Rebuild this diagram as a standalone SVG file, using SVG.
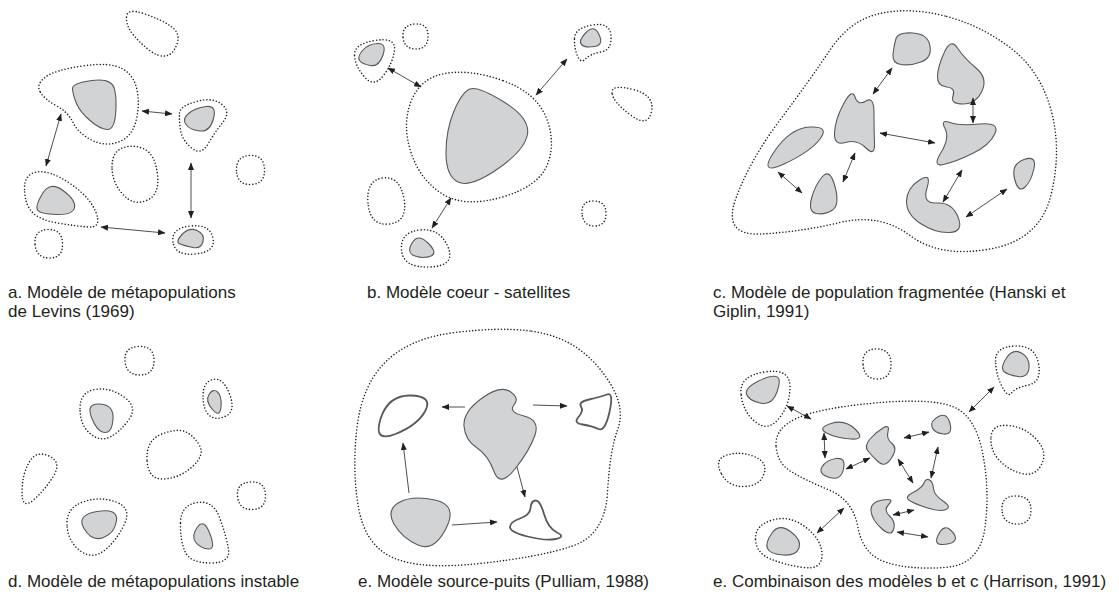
<svg xmlns="http://www.w3.org/2000/svg" width="1119" height="601" viewBox="0 0 1119 601">
<defs>
<style>
.dot{fill:none;stroke:#231f20;stroke-width:1.6;stroke-dasharray:0 3.2;stroke-linecap:round}
.pat{fill:#d1d3d4;stroke:#58595b;stroke-width:1.1}
.sink{fill:#fff;stroke:#58595b;stroke-width:1.8}
.arr{fill:none;stroke:#231f20;stroke-width:0.8;marker-end:url(#ah)}
.dbl{marker-start:url(#ah)}
.lbl{font-family:"Liberation Sans",Arial,sans-serif;font-size:17px;fill:#231f20}
</style>
<marker id="ah" markerUnits="userSpaceOnUse" markerWidth="8" markerHeight="6" refX="7" refY="3" orient="auto-start-reverse" viewBox="0 0 8 6"><path d="M0,0 L7.5,3 L0,6 z" fill="#231f20"/></marker>
</defs>
<rect width="1119" height="601" fill="#fff"/>

<g id="panel-a">
<path class="dot" d="M126.5,17 Q127,8 143.5,13.5 Q160,19 170.5,26 Q181,33 177,44 Q173,55 165.5,56 Q158,57 149,50 Q140,43 133,34.5 Q126,26 126.5,17 Z"/>
<path class="dot" d="M40,91.5 Q36,84 45.5,77 Q55,70 82.5,66 Q110,62 122,68.5 Q134,75 137,90 Q140,105 136,121 Q132,137 118.5,142 Q105,147 91.5,140 Q78,133 73,122.5 Q68,112 56,105.5 Q44,99 40,91.5 Z"/>
<path class="pat" d="M72.5,89 Q72,83 92,80.5 Q112,78 114.5,89 Q117,100 115.5,115 Q114,130 107,129.5 Q100,129 90,120.5 Q80,112 76.5,103.5 Q73,95 72.5,89 Z"/>
<path class="dot" d="M179.5,113 Q180,106 196.5,101.5 Q213,97 222,104.5 Q231,112 223,122 Q215,132 208,144 Q201,156 191.5,148 Q182,140 180.5,130 Q179,120 179.5,113 Z"/>
<path class="pat" d="M186,124.5 Q182,119 188.5,113.5 Q195,108 206,106.5 Q217,105 213.5,118.5 Q210,132 200,131 Q190,130 186,124.5 Z"/>
<path class="dot" d="M112,167 Q112,152 122.5,148 Q133,144 144,149 Q155,154 157.5,174.5 Q160,195 146.5,200.5 Q133,206 122.5,194 Q112,182 112,167 Z"/>
<path class="dot" d="M236.5,170.5 Q236,156 250,155.5 Q264,155 264.5,169.5 Q265,184 251,184.5 Q237,185 236.5,170.5 Z"/>
<path class="dot" d="M24.5,189.5 Q24,174 37,172 Q50,170 70,183.5 Q90,197 96,212.5 Q102,228 88.5,227 Q75,226 57.5,223 Q40,220 32.5,212.5 Q25,205 24.5,189.5 Z"/>
<path class="pat" d="M37.5,210 Q35,206 42.5,193.5 Q50,181 63,190.5 Q76,200 74.5,207.5 Q73,215 56.5,214.5 Q40,214 37.5,210 Z"/>
<path class="dot" d="M35,244 Q34,230 48,229.5 Q62,229 62.5,243.5 Q63,258 49.5,258 Q36,258 35,244 Z"/>
<path class="dot" d="M173,242 Q171,228 190.5,226 Q210,224 213,238 Q216,252 195.5,254 Q175,256 173,242 Z"/>
<path class="pat" d="M180,244 Q175,242 182,234.5 Q189,227 197,230.5 Q205,234 203,241.5 Q201,249 193,247.5 Q185,246 180,244 Z"/>
<text class="lbl" x="8" y="298">a. Modèle de métapopulations</text>
<text class="lbl" x="8" y="317">de Levins (1969)</text>
</g>

<g id="panel-b">
<path class="dot" d="M354.5,55 Q354,44 375,40.5 Q396,37 394.5,50 Q393,63 383.5,75.5 Q374,88 364.5,77 Q355,66 354.5,55 Z"/>
<path class="pat" d="M359.5,60.5 Q357,57 362.5,50.5 Q368,44 377.5,43.5 Q387,43 383,55 Q379,67 370.5,65.5 Q362,64 359.5,60.5 Z"/>
<path class="dot" d="M403,37 Q402,25 415,24 Q428,23 428,36 Q428,49 416,49 Q404,49 403,37 Z"/>
<path class="dot" d="M574.5,38 Q575,28 592.5,25 Q610,22 611,36 Q612,50 601,52 Q590,54 585.5,59 Q581,64 577.5,56 Q574,48 574.5,38 Z"/>
<path class="pat" d="M581.5,44.5 Q578,41 586,32.5 Q594,24 599,34.5 Q604,45 594.5,46.5 Q585,48 581.5,44.5 Z"/>
<path class="dot" d="M612,93 Q611,84 633,89.5 Q655,95 651.5,111.5 Q648,128 630.5,115 Q613,102 612,93 Z"/>
<path class="dot" d="M502.5,80.5 Q470,69 445,73.5 Q420,78 411,101.5 Q402,125 411,152.5 Q420,180 442.5,194 Q465,208 502.5,197 Q540,186 548,163 Q556,140 545.5,116 Q535,92 502.5,80.5 Z"/>
<path class="pat" d="M470,89 Q478,86 504,102 Q530,118 527.5,134 Q525,150 497.5,169 Q470,188 458,182 Q446,176 446,153 Q446,130 454,111 Q462,92 470,89 Z"/>
<path class="dot" d="M368,203 Q366,180 383,178 Q400,176 404,199 Q408,222 389,224 Q370,226 368,203 Z"/>
<path class="dot" d="M582,213.5 Q581,201 593.5,201 Q606,201 606,213.5 Q606,226 594.5,226 Q583,226 582,213.5 Z"/>
<path class="dot" d="M401.5,250 Q400,232 420,230 Q440,228 448,247 Q456,266 429.5,267 Q403,268 401.5,250 Z"/>
<path class="pat" d="M415,256 Q406,253 412,243 Q418,233 428,243 Q438,253 431,256 Q424,259 415,256 Z"/>
<text class="lbl" x="367" y="298">b. Modèle coeur - satellites</text>
</g>

<g id="panel-c">
<path class="dot" d="M945,16 Q910,7 880,13.5 Q850,20 830,50 Q810,80 780,120 Q750,160 736,198 Q722,236 761,234 Q800,232 840,222.5 Q880,213 910,235.5 Q940,258 990,249 Q1040,240 1051,195 Q1062,150 1051,110 Q1040,70 1010,47.5 Q980,25 945,16 Z"/>
<path class="pat" d="M896,38.5 Q898,32 913,33 Q928,34 930,46 Q932,58 921,62 Q910,66 901,64.5 Q892,63 893,54 Q894,45 896,38.5 Z"/>
<path class="pat" d="M944.5,52 Q951,38 957.5,48 Q964,58 976,68 Q988,78 982,91 Q976,104 963,104 Q950,104 953,96 Q956,88 946.5,87 Q937,86 937.5,76 Q938,66 944.5,52 Z"/>
<path class="pat" d="M834.5,133 Q835,120 843.5,104 Q852,88 855,97 Q858,106 866,101 Q874,96 874,113 Q874,130 874.5,143.5 Q875,157 866,148 Q857,139 845.5,142.5 Q834,146 834.5,133 Z"/>
<path class="pat" d="M945,128.5 Q940,119 950,122.5 Q960,126 980,124 Q1000,122 995,133.5 Q990,145 972.5,153.5 Q955,162 943.5,164.5 Q932,167 941,152.5 Q950,138 945,128.5 Z"/>
<path class="pat" d="M784,164 Q758,176 774,152 Q790,128 810,127 Q830,126 820,139 Q810,152 784,164 Z"/>
<path class="pat" d="M816.5,213.5 Q808,212 811.5,198.5 Q815,185 822.5,176.5 Q830,168 835,186.5 Q840,205 832.5,210 Q825,215 816.5,213.5 Z"/>
<path class="pat" d="M906.5,201 Q907,188 919.5,180 Q932,172 927,188 Q922,204 937,203 Q952,202 958,217 Q964,232 949.5,232.5 Q935,233 920.5,223.5 Q906,214 906.5,201 Z"/>
<path class="pat" d="M1014.5,178.5 Q1011,164 1024,159.5 Q1037,155 1034,168.5 Q1031,182 1024.5,187.5 Q1018,193 1014.5,178.5 Z"/>
<text class="lbl" x="713" y="298">c. Modèle de population fragmentée (Hanski et</text>
<text class="lbl" x="713" y="317">Giplin, 1991)</text>
</g>

<g id="panel-d">
<path class="dot" d="M125,361 Q124,347 139,346.5 Q154,346 154,360.5 Q154,375 140,375 Q126,375 125,361 Z"/>
<path class="dot" d="M80,408.5 Q80,392 95,389.5 Q110,387 124,397 Q138,407 129,419.5 Q120,432 110,437 Q100,442 90,433.5 Q80,425 80,408.5 Z"/>
<path class="pat" d="M91.5,417.5 Q86,403 100,404 Q114,405 113,419 Q112,433 104.5,432.5 Q97,432 91.5,417.5 Z"/>
<path class="dot" d="M203,396 Q203,382 213,379.5 Q223,377 229.5,394 Q236,411 226,416 Q216,421 209.5,415.5 Q203,410 203,396 Z"/>
<path class="pat" d="M212.5,409.5 Q205,401 209,394.5 Q213,388 217.5,392 Q222,396 221,407 Q220,418 212.5,409.5 Z"/>
<path class="dot" d="M147,460 Q146,440 162,434 Q178,428 186,432 Q194,436 199.5,445.5 Q205,455 192.5,466.5 Q180,478 164,479 Q148,480 147,460 Z"/>
<path class="dot" d="M22,492.5 Q22,475 29,462.5 Q36,450 49,456 Q62,462 53.5,476 Q45,490 33.5,500 Q22,510 22,492.5 Z"/>
<path class="dot" d="M67,525 Q66,508 83,502 Q100,496 116,502 Q132,508 124.5,524 Q117,540 105,550 Q93,560 80.5,551 Q68,542 67,525 Z"/>
<path class="pat" d="M84,528.5 Q76,515 97,511.5 Q118,508 116.5,520.5 Q115,533 103.5,537.5 Q92,542 84,528.5 Z"/>
<path class="dot" d="M237.5,496.5 Q236,483 250.5,482 Q265,481 265.5,495 Q266,509 252.5,509.5 Q239,510 237.5,496.5 Z"/>
<path class="dot" d="M180.5,522.5 Q181,505 197,502.5 Q213,500 219.5,517.5 Q226,535 228.5,549 Q231,563 210.5,563 Q190,563 185,551.5 Q180,540 180.5,522.5 Z"/>
<path class="pat" d="M195.5,542 Q191,536 197.5,527 Q204,518 210,534 Q216,550 208,549 Q200,548 195.5,542 Z"/>
<text class="lbl" x="8" y="587">d. Modèle de métapopulations instable</text>
</g>

<g id="panel-e">
<path class="dot" d="M530,331 Q500,327 455,332.5 Q410,338 386,361.5 Q362,385 357,427.5 Q352,470 358.5,507.5 Q365,545 392.5,557.5 Q420,570 480,563.5 Q540,557 572.5,546 Q605,535 607.5,492.5 Q610,450 617.5,430 Q625,410 612.5,387.5 Q600,365 580,350 Q560,335 530,331 Z"/>
<path class="sink" d="M380.5,419 Q388,395 410.5,395.5 Q433,396 425.5,410.5 Q418,425 395.5,434 Q373,443 380.5,419 Z"/>
<path class="sink" d="M581,406.5 Q578,402 589,399.5 Q600,397 607,394.5 Q614,392 609.5,412 Q605,432 598.5,429 Q592,426 582.5,424.5 Q573,423 578.5,417 Q584,411 581,406.5 Z"/>
<path class="sink" d="M510,527 Q510,522 520,518.5 Q530,515 530.5,508 Q531,501 535.5,500.5 Q540,500 544,514 Q548,528 557,532.5 Q566,537 555.5,539 Q545,541 527.5,536.5 Q510,532 510,527 Z"/>
<path class="pat" d="M464,426 Q463,412 481.5,398.5 Q500,385 510,391.5 Q520,398 514,405 Q508,412 524,416 Q540,420 535,435 Q530,450 515,469 Q500,488 494,471.5 Q488,455 476.5,447.5 Q465,440 464,426 Z"/>
<path class="pat" d="M394,524 Q386,510 399,502.5 Q412,495 435,500 Q458,505 446,528.5 Q434,552 418,545 Q402,538 394,524 Z"/>
<text class="lbl" x="358" y="587">e. Modèle source-puits (Pulliam, 1988)</text>
</g>

<g id="panel-f">
<path class="dot" d="M863,364 Q862,349 876.5,349 Q891,349 891,364 Q891,379 877.5,379 Q864,379 863,364 Z"/>
<path class="dot" d="M741,394 Q739,376 764.5,372 Q790,368 790,386.5 Q790,405 779,418.5 Q768,432 755.5,422 Q743,412 741,394 Z"/>
<path class="pat" d="M746.5,394 Q745,388 757.5,381.5 Q770,375 776,376.5 Q782,378 777,392 Q772,406 760,403 Q748,400 746.5,394 Z"/>
<path class="dot" d="M995.5,361 Q995,347 1015,346 Q1035,345 1038.5,363.5 Q1042,382 1028.5,385 Q1015,388 1011.5,393 Q1008,398 1002,386.5 Q996,375 995.5,361 Z"/>
<path class="pat" d="M1004,371.5 Q1000,368 1006.5,358 Q1013,348 1021.5,353 Q1030,358 1029,368 Q1028,378 1018,376.5 Q1008,375 1004,371.5 Z"/>
<path class="dot" d="M776,445.5 Q775,428 797.5,418 Q820,408 875,403 Q930,398 952.5,406.5 Q975,415 982.5,452.5 Q990,490 985,527.5 Q980,565 945,567.5 Q910,570 886.5,562.5 Q863,555 858,527.5 Q853,500 829,490 Q805,480 791,471.5 Q777,463 776,445.5 Z"/>
<path class="dot" d="M991,437 Q992,424 1008.5,425.5 Q1025,427 1036.5,439.5 Q1048,452 1041.5,464.5 Q1035,477 1021.5,473.5 Q1008,470 999,460 Q990,450 991,437 Z"/>
<path class="dot" d="M721,473 Q714,459 727,455 Q740,451 754,456.5 Q768,462 764,474 Q760,486 744,486.5 Q728,487 721,473 Z"/>
<path class="dot" d="M1002,510 Q1001,496 1016,496 Q1031,496 1031,510 Q1031,524 1017,524 Q1003,524 1002,510 Z"/>
<path class="dot" d="M755.5,539 Q755,525 772.5,520 Q790,515 806,527.5 Q822,540 822,555 Q822,570 803.5,567.5 Q785,565 770.5,559 Q756,553 755.5,539 Z"/>
<path class="pat" d="M767.5,548.5 Q765,543 772,533 Q779,523 790.5,531.5 Q802,540 799,548 Q796,556 783,555 Q770,554 767.5,548.5 Z"/>
<path class="pat" d="M826.5,433 Q817,428 831,423.5 Q845,419 855.5,429.5 Q866,440 851,439 Q836,438 826.5,433 Z"/>
<path class="pat" d="M829.5,477.5 Q818,474 822,467 Q826,460 836,458.5 Q846,457 843.5,469 Q841,481 829.5,477.5 Z"/>
<path class="pat" d="M868,451 Q864,446 870,439 Q876,432 883,428 Q890,424 888,431.5 Q886,439 892,443.5 Q898,448 891.5,458 Q885,468 878.5,462 Q872,456 868,451 Z"/>
<path class="pat" d="M932,427 Q930,421 938.5,416.5 Q947,412 950,423.5 Q953,435 943.5,434 Q934,433 932,427 Z"/>
<path class="pat" d="M909.5,500.5 Q904,497 913,492.5 Q922,488 924,483 Q926,478 929.5,480 Q933,482 933.5,488.5 Q934,495 943,501 Q952,507 946,509.5 Q940,512 927.5,508 Q915,504 909.5,500.5 Z"/>
<path class="pat" d="M871,511 Q870,502 882.5,500 Q895,498 889,504 Q883,510 889.5,516 Q896,522 893.5,529.5 Q891,537 881.5,528.5 Q872,520 871,511 Z"/>
<path class="pat" d="M943,544.5 Q933,545 938.5,534.5 Q944,524 950.5,530 Q957,536 955,540 Q953,544 943,544.5 Z"/>
<text class="lbl" x="713" y="587">e. Combinaison des modèles b et c (Harrison, 1991)</text>
</g>

<g id="connectors">
<line class="arr dbl" x1="61" y1="114" x2="46" y2="166"/>
<line class="arr dbl" x1="142" y1="111" x2="172" y2="114"/>
<line class="arr dbl" x1="191" y1="163" x2="191" y2="218"/>
<line class="arr dbl" x1="101" y1="227" x2="165" y2="233"/>
<line class="arr dbl" x1="388" y1="68" x2="421" y2="87"/>
<line class="arr dbl" x1="567" y1="59" x2="536" y2="95"/>
<line class="arr dbl" x1="451" y1="198" x2="432" y2="228"/>
<line class="arr dbl" x1="892" y1="68" x2="873" y2="94"/>
<line class="arr dbl" x1="973" y1="98" x2="973" y2="123"/>
<line class="arr dbl" x1="880" y1="133" x2="935" y2="143"/>
<line class="arr dbl" x1="778" y1="172" x2="802" y2="193"/>
<line class="arr dbl" x1="855" y1="153" x2="843" y2="182"/>
<line class="arr dbl" x1="962" y1="170" x2="943" y2="202"/>
<line class="arr dbl" x1="1007" y1="189" x2="966" y2="217"/>
<line class="arr" x1="465" y1="407" x2="442" y2="407"/>
<line class="arr" x1="533" y1="405" x2="567" y2="406"/>
<line class="arr" x1="409" y1="493" x2="403" y2="443"/>
<line class="arr" x1="517" y1="467" x2="525" y2="497"/>
<line class="arr" x1="452" y1="525" x2="497" y2="522"/>
<line class="arr dbl" x1="787" y1="406" x2="811" y2="419"/>
<line class="arr dbl" x1="824" y1="433" x2="825" y2="458"/>
<line class="arr dbl" x1="846" y1="469" x2="870" y2="458"/>
<line class="arr dbl" x1="904" y1="438" x2="929" y2="432"/>
<line class="arr dbl" x1="994" y1="387" x2="969" y2="412"/>
<line class="arr dbl" x1="938" y1="447" x2="931" y2="478"/>
<line class="arr dbl" x1="898" y1="459" x2="913" y2="483"/>
<line class="arr dbl" x1="893" y1="515" x2="914" y2="510"/>
<line class="arr dbl" x1="897" y1="532" x2="928" y2="537"/>
<line class="arr dbl" x1="844" y1="508" x2="817" y2="533"/>
</g>
</svg>
